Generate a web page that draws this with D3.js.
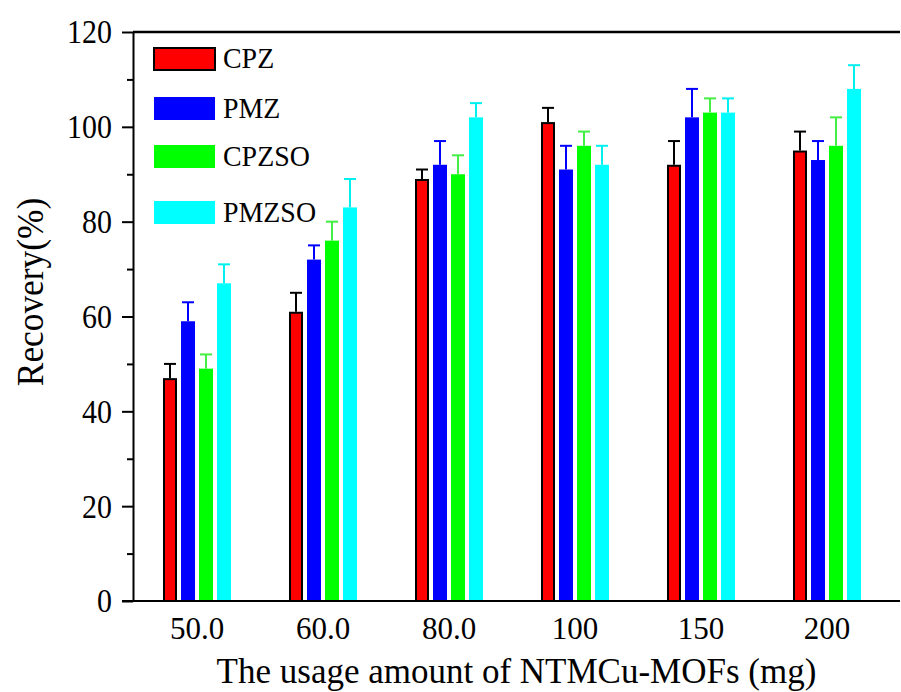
<!DOCTYPE html>
<html>
<head>
<meta charset="utf-8">
<script src="https://cdn.jsdelivr.net/npm/d3@7"></script>
<style>
	body { margin: 0; background: #fff; }
	text { font-family: "Liberation Serif", "Times New Roman", serif; fill: #000; }
</style>
</head>
<body>
<div id="graphic"></div>
<script>
// data
const categories = ["50.0", "60.0", "80.0", "100", "150", "200"];
const seriesNames = ["CPZ", "PMZ", "CPZSO", "PMZSO"];
const cpz = [47, 61, 89, 101, 92, 95];
const cpzErr = [3, 4, 2, 3, 5, 4];
const pmz = [59, 72, 92, 91, 102, 93];
const pmzErr = [4, 3, 5, 5, 6, 4];
const cpzso = [49, 76, 90, 96, 103, 96];
const cpzsoErr = [3, 4, 4, 3, 3, 6];
const pmzso = [67, 83, 102, 92, 103, 108];
const pmzsoErr = [4, 6, 3, 4, 3, 5];
const yTicks = [0, 20, 40, 60, 80, 100, 120];
const yMinorTicks = [10, 30, 50, 70, 90, 110];

const values = [cpz, pmz, cpzso, pmzso];
const errors = [cpzErr, pmzErr, cpzsoErr, pmzsoErr];
const fills = ["#ff0000", "#0000ff", "#00ff00", "#00ffff"];
const errColours = ["#000000", "#0000ff", "#44ee44", "#00f0f0"];

// flatten into rows for the joins
let rows = [];
categories.forEach((c, i) => {
	seriesNames.forEach((s, j) => {
		rows.push({ cat: c, series: s, value: values[j][i], err: errors[j][i], idx: j });
	});
});

const width = 901, height = 692;
const plot = { left: 133, right: 900, top: 32, bottom: 601 };

let svg = d3.select('#graphic')
	.append('svg')
	.attr('width', width)
	.attr('height', height);

const y = d3.scaleLinear().domain([0, 120]).range([plot.bottom, plot.top]);

const x = d3.scaleBand()
	.domain(categories)
	.range([134, 890])
	.paddingInner(0)
	.paddingOuter(0);

const xSub = d3.scaleBand()
	.domain(seriesNames)
	.range([-36, 36])
	.paddingInner(0.222)
	.paddingOuter(0.111);

// squeeze text a little, the original font is a narrow Times
function condense(sel, k) {
	sel.each(function () {
		let len = this.getComputedTextLength();
		d3.select(this).attr('textLength', len * k).attr('lengthAdjust', 'spacingAndGlyphs');
	});
}

//bars
svg.append('g')
	.selectAll('rect')
	.data(rows)
	.join('rect')
	.attr('x', (d) => x(d.cat) + x.bandwidth() / 2 + xSub(d.series) + (d.idx == 0 ? 1 : 0))
	.attr('y', (d) => y(d.value) + (d.idx == 0 ? 1 : 0))
	.attr('width', (d) => xSub.bandwidth() - (d.idx == 0 ? 2 : 0))
	.attr('height', (d) => y(0) - y(d.value) - (d.idx == 0 ? 1 : 0))
	.attr('fill', (d) => fills[d.idx])
	.attr('stroke', (d) => d.idx == 0 ? '#000' : 'none')
	.attr('stroke-width', 2);

//error bars (upper only)
let errG = svg.append('g')
	.selectAll('g')
	.data(rows)
	.join('g')
	.attr('stroke', (d) => errColours[d.idx])
	.attr('stroke-width', 2);

const cx = (d) => x(d.cat) + x.bandwidth() / 2 + xSub(d.series) + xSub.bandwidth() / 2;

errG.append('line')
	.attr('x1', cx).attr('x2', cx)
	.attr('y1', (d) => y(d.value))
	.attr('y2', (d) => y(d.value + d.err));

errG.append('line')
	.attr('x1', (d) => cx(d) - 6).attr('x2', (d) => cx(d) + 6)
	.attr('y1', (d) => y(d.value + d.err))
	.attr('y2', (d) => y(d.value + d.err));

//y axis
let yAxis = svg.append('g')
	.attr('transform', 'translate(' + plot.left + ',0)')
	.call(d3.axisLeft(y).tickValues(yTicks).tickSize(11).tickPadding(10).tickSizeOuter(0));

yAxis.select('.domain').attr('stroke-width', 2);
yAxis.selectAll('.tick line').attr('stroke-width', 2);
yAxis.selectAll('text')
	.style('font-family', '"Liberation Serif", serif')
	.attr('font-size', 34)
	.call(condense, 0.88);

let yMinor = svg.append('g')
	.attr('transform', 'translate(' + plot.left + ',0)')
	.call(d3.axisLeft(y).tickValues(yMinorTicks).tickSize(6).tickFormat('').tickSizeOuter(0));
yMinor.select('.domain').remove();
yMinor.selectAll('.tick line').attr('stroke-width', 2);

//x axis
let xAxis = svg.append('g')
	.attr('transform', 'translate(0,' + plot.bottom + ')')
	.call(d3.axisBottom(x).tickSize(0).tickPadding(16));

xAxis.select('.domain').remove();
xAxis.selectAll('text')
	.style('font-family', '"Liberation Serif", serif')
	.attr('font-size', 31);

// bottom and top frame lines
svg.append('line')
	.attr('x1', 122).attr('x2', plot.right)
	.attr('y1', plot.bottom).attr('y2', plot.bottom)
	.attr('stroke', '#000').attr('stroke-width', 2);

svg.append('line')
	.attr('x1', plot.left).attr('x2', plot.right)
	.attr('y1', plot.top).attr('y2', plot.top)
	.attr('stroke', '#000').attr('stroke-width', 2.5);

//axis titles
svg.append('text')
	.attr('x', (plot.left + plot.right) / 2)
	.attr('y', 683)
	.attr('text-anchor', 'middle')
	.attr('font-size', 35)
	.text('The usage amount of NTMCu-MOFs (mg)');

svg.append('text')
	.attr('transform', 'translate(43,292) rotate(-90)')
	.attr('text-anchor', 'middle')
	.attr('font-size', 38)
	.text('Recovery(%)')
	.call(condense, 0.93);

//legend
const legendY = [47, 97, 145, 201];

let legend = svg.append('g')
	.selectAll('g')
	.data(seriesNames)
	.join('g')
	.attr('transform', (d, i) => 'translate(153,' + legendY[i] + ')');

legend.append('rect')
	.attr('x', 1)
	.attr('y', (d, i) => i == 0 ? 1 : 0)
	.attr('width', 61)
	.attr('height', (d, i) => i == 0 ? 22 : 23)
	.attr('fill', (d, i) => fills[i])
	.attr('stroke', (d, i) => i == 0 ? '#000' : 'none')
	.attr('stroke-width', 2);

legend.append('text')
	.attr('x', 70)
	.attr('y', 21)
	.attr('font-size', 30)
	.text((d) => d)
	.call(condense, 0.93);
</script>
</body>
</html>
